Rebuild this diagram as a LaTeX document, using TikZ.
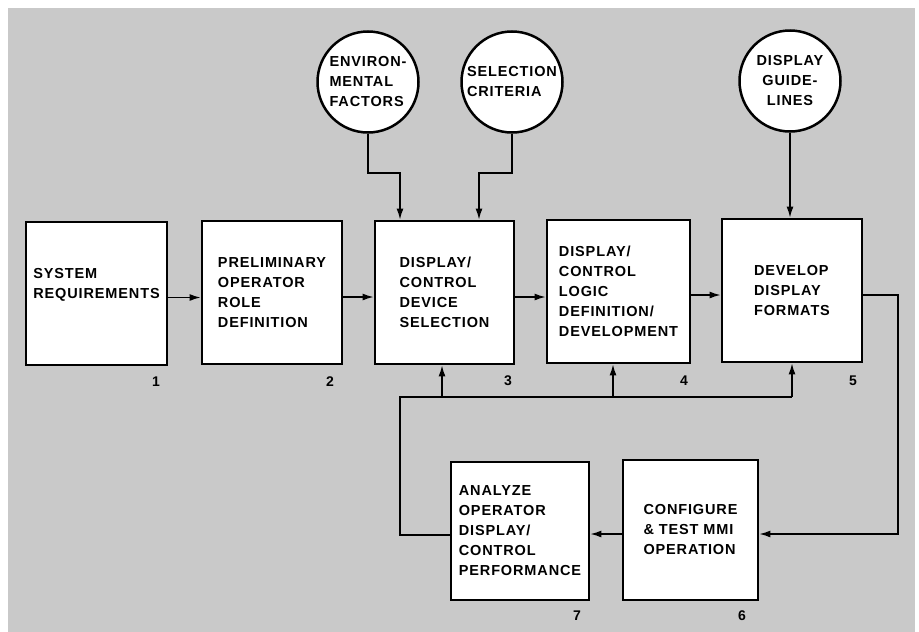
\documentclass[tikz,border=0pt]{standalone}
\usepackage{fontspec}
\setmainfont{Liberation Sans}[LetterSpace=6]
\usetikzlibrary{arrows.meta,calc}
\definecolor{bgray}{RGB}{201,201,201}
\begin{document}
\begin{tikzpicture}[x=1pt,y=-1pt,
  every node/.style={font=\fontsize{14.5}{20}\selectfont\bfseries},
  box/.style={draw,line width=2.8pt,fill=white,align=left,inner sep=0pt},
  circ/.style={draw,circle,line width=2.5pt,fill=white,minimum size=101pt,inner sep=0pt},
  num/.style={font=\fontsize{14}{16}\selectfont\bfseries,inner sep=0pt},
  conn/.style={line width=1.5pt},
  arr/.style={conn,-{Latex[length=11pt,width=7pt]}}]
\useasboundingbox (0,0) rectangle (919,632);
\fill[white] (0,0) rectangle (919,632);
\fill[bgray] (8,8) rectangle (915,632);

% top circles
\node[circ,align=left] (env) at (368,82) {ENVIRON-\\MENTAL\\FACTORS};
\node[circ,align=left] (sel) at (512,82) {SELECTION\\CRITERIA};
\node[circ,align=center] (gui) at (790,81) {DISPLAY\\GUIDE-\\LINES};

% top row boxes
\node[box,minimum width=141pt,minimum height=143pt] (b1) at (96.5,293.5) {SYSTEM\\REQUIREMENTS\\\mbox{}};
\node[box,minimum width=140pt,minimum height=143pt] (b2) at (272,292.5) {PRELIMINARY\\OPERATOR\\ROLE\\DEFINITION};
\node[box,minimum width=139pt,minimum height=143pt] (b3) at (444.5,292.5) {DISPLAY/\\CONTROL\\DEVICE\\SELECTION};
\node[box,minimum width=143pt,minimum height=143pt] (b4) at (618.5,291.5) {DISPLAY/\\CONTROL\\LOGIC\\DEFINITION/\\DEVELOPMENT};
\node[box,minimum width=140pt,minimum height=143pt] (b5) at (792,290.5) {DEVELOP\\DISPLAY\\FORMATS};

% bottom row boxes
\node[box,minimum width=138pt,minimum height=138pt] (b7) at (520,531) {ANALYZE\\OPERATOR\\DISPLAY/\\CONTROL\\PERFORMANCE};
\node[box,minimum width=135pt,minimum height=140pt] (b6) at (690.5,530) {CONFIGURE\\\& TEST MMI\\OPERATION};

% numbers
\node[num] (n1) at (156,382) {1};
\node[num] (n2) at (330,382) {2};
\node[num] (n3) at (508,381) {3};
\node[num] (n4) at (684,381) {4};
\node[num] (n5) at (853,381) {5};
\node[num] (n6) at (742,616) {6};
\node[num] (n7) at (577,616) {7};

% junction coordinates
\coordinate (j1) at (400,173);
\coordinate (j2) at (479,173);
\coordinate (r1) at (898,534);
\coordinate (f0) at (400,397);
\coordinate (f3) at (442,397);
\coordinate (f4) at (613,397);
\coordinate (f5) at (792,397);

% main flow
\draw[arr] ([yshift=-4pt]b1.east) -- ([yshift=-4pt]b1.east -| b2.west);
\draw[arr] ([yshift=-4.5pt]b2.east) -- ([yshift=-4.5pt]b2.east -| b3.west);
\draw[arr] ([yshift=-4.5pt]b3.east) -- ([yshift=-4.5pt]b3.east -| b4.west);
\draw[arr] ([yshift=-3.5pt]b4.east) -- ([yshift=-3.5pt]b4.east -| b5.west);

% inputs from circles
\draw[arr] (env.south) |- (j1) -- (j1 |- b3.north);
\draw[arr] (sel.south) |- (j2) -- (j2 |- b3.north);
\draw[arr] (gui.south) -- (gui.south |- b5.north);

% loop to bottom row
\draw[arr] ([yshift=-4.5pt]b5.east) -| (r1) -- (r1 -| b6.east);
\draw[arr] ([yshift=-4pt]b6.west) -- ([yshift=-4pt]b6.west -| b7.east);

% feedback
\draw[conn] ([yshift=-4pt]b7.west) -| (f0) -- (f5);
\draw[arr] (f3) -- (f3 |- b3.south);
\draw[arr] (f4) -- (f4 |- b4.south);
\draw[arr] (f5) -- (f5 |- b5.south);
\end{tikzpicture}
\end{document}
